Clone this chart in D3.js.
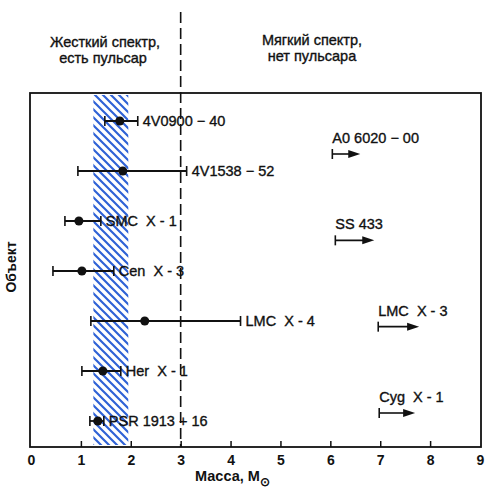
<!DOCTYPE html>
<html><head><meta charset="utf-8">
<script src="https://cdn.jsdelivr.net/npm/d3@7"></script>
<style>body{margin:0;background:#fff}svg{display:block}</style>
</head><body>
<script>
// Data
const objects = ["4V0900 − 40","4V1538 − 52","SMC  X - 1","Cen  X - 3","LMC  X - 4","Her  X - 1","PSR 1913 + 16"];
const masses  = [1.78, 1.84, 0.96, 1.02, 2.28, 1.44, 1.34];
const lows    = [1.48, 0.94, 0.68, 0.44, 1.20, 1.02, 1.18];
const highs   = [2.14, 3.12, 1.40, 1.66, 4.20, 1.80, 1.46];
const limitObjects = ["A0 6020 − 00","SS 433","LMC  X - 3","Cyg  X - 1"];
const limitMins    = [6.04, 6.10, 6.96, 6.98];
const limitEnds    = [6.60, 6.88, 7.78, 7.70];
const xTicks = [0,1,2,3,4,5,6,7,8,9];
const bandRange = [1.25, 1.95];
const divider = 3;

const W=485,H=489;
const svg=d3.select("body").append("svg").attr("width",W).attr("height",H);
const x=d3.scaleLinear().domain([0,9]).range([31,480]);
const plotTop=93,plotBottom=447;
const yPts=d3.scalePoint().domain(objects).range([121,421]);
const yLim=d3.scalePoint().domain(limitObjects).range([154,413]);
const font="'Liberation Sans', Arial, sans-serif";

// hatch pattern
const defs=svg.append("defs");
const pat=defs.append("pattern").attr("id","hatch").attr("patternUnits","userSpaceOnUse")
  .attr("width",8).attr("height",8);
pat.append("path").attr("d","M-2,-2 L10,10 M-2,6 L2,10 M6,-2 L10,2")
  .attr("stroke","#2f62d6").attr("stroke-width",2.2);

svg.append("rect").attr("x",x(bandRange[0])).attr("y",plotTop+2)
  .attr("width",x(bandRange[1])-x(bandRange[0])).attr("height",plotBottom-plotTop-4)
  .attr("fill","url(#hatch)");

// frame
svg.append("rect").attr("x",x(0)-1).attr("y",plotTop).attr("width",x(9)-x(0)+2).attr("height",plotBottom-plotTop)
  .attr("fill","none").attr("stroke","#111").attr("stroke-width",1.8);

// axis
const ax=svg.append("g").attr("transform",`translate(0,${plotBottom})`)
  .call(d3.axisBottom(x).tickValues(xTicks).tickSize(-6).tickPadding(8).tickFormat(d3.format("d")));
ax.select(".domain").remove();
ax.selectAll(".tick line").attr("stroke","#111").attr("stroke-width",1.5)
  .attr("display",d=>(d===0||d===9)?"none":null);
ax.selectAll(".tick text").attr("font-family",font).attr("font-size",14).attr("font-weight","bold").attr("fill","#111");

// divider dashed
svg.append("line").attr("x1",x(divider)).attr("x2",x(divider)).attr("y1",12).attr("y2",plotBottom)
  .attr("stroke","#111").attr("stroke-width",1.6).attr("stroke-dasharray","11,5");

const lbl=(sel)=>sel.attr("font-family",font).attr("font-size",14.5).attr("fill","#111")
  .attr("stroke","#111").attr("stroke-width",0.35).style("white-space","pre");

// error bars
const g=svg.append("g").attr("stroke","#111").attr("fill","#111");
objects.forEach((o,i)=>{
  const y=yPts(o);
  g.append("line").attr("x1",x(lows[i])).attr("x2",x(highs[i])).attr("y1",y).attr("y2",y).attr("stroke-width",1.8);
  [lows[i],highs[i]].forEach(v=>g.append("line").attr("x1",x(v)).attr("x2",x(v)).attr("y1",y-5).attr("y2",y+5).attr("stroke-width",1.6));
  g.append("circle").attr("cx",x(masses[i])).attr("cy",y).attr("r",4.5).attr("stroke","none");
  lbl(svg.append("text").attr("x",x(highs[i])+5).attr("y",y+5).text(o));
});

// lower limits
limitObjects.forEach((o,i)=>{
  const y=yLim(o), x0=x(limitMins[i]), x1=x(limitEnds[i]);
  g.append("line").attr("x1",x0).attr("x2",x0).attr("y1",y-5).attr("y2",y+5).attr("stroke-width",1.6);
  g.append("line").attr("x1",x0).attr("x2",x1-6).attr("y1",y).attr("y2",y).attr("stroke-width",1.6);
  g.append("path").attr("d",`M${x1},${y} L${x1-12},${y-4} L${x1-12},${y+4} Z`).attr("stroke","none");
  lbl(svg.append("text").attr("x",x0).attr("y",y-11).text(o));
});

// headers
const hdr=(t,cx,y)=>svg.append("text").attr("x",cx).attr("y",y).attr("text-anchor","middle").text(t)
  .attr("font-family",font).attr("font-size",14.5).attr("fill","#111").attr("stroke","#111").attr("stroke-width",0.35);
hdr("Жесткий спектр,",105,47);hdr("есть пульсар",103,63);
hdr("Мягкий спектр,",312,45);hdr("нет пульсара",312,61);

// axis titles
svg.append("text").attr("transform","translate(16,267) rotate(-90)").attr("text-anchor","middle")
  .text("Объект").attr("font-family",font).attr("font-size",14).attr("font-weight","bold").attr("fill","#111");
const xt=svg.append("text").attr("x",195).attr("y",481).attr("font-family",font).attr("font-size",14.5).attr("font-weight","bold").attr("fill","#111");
xt.append("tspan").text("Масса, M");
xt.append("tspan").attr("dy",5).attr("font-size",12).text("⊙");
</script>
</body></html>
